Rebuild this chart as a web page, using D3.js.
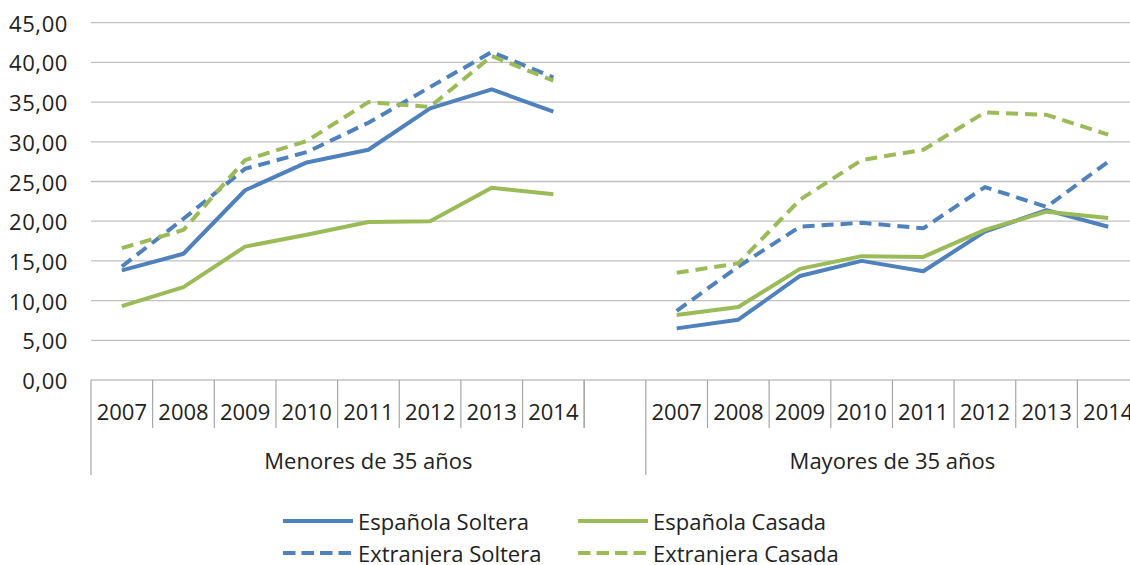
<!DOCTYPE html>
<html>
<head>
<meta charset="utf-8">
<script src="https://cdn.jsdelivr.net/npm/d3@7.9.0/dist/d3.min.js"></script>
<style>
  html, body { margin: 0; padding: 0; background: #fff; }
  svg { display: block; font-family: "Open Sans", sans-serif; }
  .tick-label { font-size: 22px; fill: #222; }
  .y-label { font-size: 22px; fill: #222; letter-spacing: 0.6px; }
  .legend-label { font-size: 22px; fill: #222; }
</style>
</head>
<body>
<svg width="1130" height="565"></svg>
<script>
const years = ['2007', '2008', '2009', '2010', '2011', '2012', '2013', '2014'];
const groups = ['Menores de 35 años', 'Mayores de 35 años'];
const yTicks = [0, 5, 10, 15, 20, 25, 30, 35, 40, 45];

const espSolteraMenores = [13.8, 15.9, 23.9, 27.4, 29.0, 34.2, 36.6, 33.8];
const espSolteraMayores = [6.5, 7.6, 13.1, 15.0, 13.7, 18.7, 21.4, 19.3];
const espCasadaMenores = [9.3, 11.7, 16.8, 18.3, 19.9, 20.0, 24.2, 23.4];
const espCasadaMayores = [8.2, 9.2, 14.0, 15.6, 15.5, 18.9, 21.2, 20.4];
const extSolteraMenores = [14.3, 20.3, 26.6, 28.7, 32.4, 36.9, 41.3, 38.1];
const extSolteraMayores = [8.7, 14.3, 19.3, 19.8, 19.1, 24.3, 21.8, 27.5];
const extCasadaMenores = [16.6, 18.9, 27.7, 30.1, 35.0, 34.4, 40.8, 37.7];
const extCasadaMayores = [13.5, 14.7, 22.7, 27.7, 29.0, 33.7, 33.4, 30.9];

const series = [
  { name: 'Española Soltera', color: '#4f81bd', dash: null, values: [espSolteraMenores, espSolteraMayores] },
  { name: 'Española Casada', color: '#9bbb59', dash: null, values: [espCasadaMenores, espCasadaMayores] },
  { name: 'Extranjera Soltera', color: '#4f81bd', dash: '12,7', values: [extSolteraMenores, extSolteraMayores] },
  { name: 'Extranjera Casada', color: '#9bbb59', dash: '12,7', values: [extCasadaMenores, extCasadaMayores] }
];

const svg = d3.select('svg');
const left = 91, bandW = 61.65;

// 8 years, one empty slot, 8 years
const slots = [];
groups.forEach((g, gi) => {
  years.forEach(yr => slots.push(gi + '-' + yr));
  if (gi === 0) slots.push('gap');
});

const x = d3.scaleBand().domain(slots).range([left, left + slots.length * bandW]).padding(0);
const y = d3.scaleLinear().domain([0, 45]).range([380, 22.7]);
const fmt = v => d3.format('.2f')(v).replace('.', ',');

// gridlines
svg.append('g')
  .selectAll('line')
  .data(yTicks.filter(d => d > 0))
  .join('line')
  .attr('x1', left).attr('x2', 1130)
  .attr('y1', d => y(d)).attr('y2', d => y(d))
  .attr('stroke', '#c0c0c0').attr('stroke-width', 1.3);

// y labels
svg.append('g')
  .selectAll('text')
  .data(yTicks)
  .join('text')
  .attr('class', 'y-label')
  .attr('x', 68).attr('y', d => y(d))
  .attr('text-anchor', 'end').attr('dominant-baseline', 'central')
  .text(fmt);

// x axis
const axis = svg.append('g').attr('stroke', '#a6a6a6').attr('stroke-width', 1.2);
axis.append('line').attr('x1', left).attr('x2', 1130).attr('y1', y(0)).attr('y2', y(0));
slots.forEach((s, i) => {
  const xx = x(s);
  const full = i === 0 || s === '1-2007';
  axis.append('line')
    .attr('x1', xx).attr('x2', xx)
    .attr('y1', y(0)).attr('y2', full ? 475 : 428);
});
axis.append('line')
  .attr('x1', x('0-2014') + bandW).attr('x2', x('0-2014') + bandW)
  .attr('y1', y(0)).attr('y2', 428);

svg.append('g')
  .selectAll('text')
  .data(slots.filter(s => s !== 'gap'))
  .join('text')
  .attr('class', 'tick-label')
  .attr('x', d => x(d) + bandW / 2).attr('y', 411)
  .attr('text-anchor', 'middle').attr('dominant-baseline', 'central')
  .text(d => d.split('-')[1]);

const groupCenters = [
  (x('0-2007') + x('gap') + bandW) / 2,
  (x('1-2007') + x('1-2014') + bandW) / 2
];
svg.append('g')
  .selectAll('text')
  .data(groups)
  .join('text')
  .attr('class', 'tick-label')
  .attr('x', (d, i) => groupCenters[i]).attr('y', 460)
  .attr('text-anchor', 'middle').attr('dominant-baseline', 'central')
  .text(d => d);

// lines
const line = d3.line().x(d => d[0]).y(d => y(d[1]));
series.forEach(s => {
  s.values.forEach((vals, gi) => {
    const pts = vals.map((v, i) => [x(gi + '-' + years[i]) + bandW / 2, v]);
    svg.append('path')
      .attr('d', line(pts))
      .attr('fill', 'none')
      .attr('stroke', s.color)
      .attr('stroke-width', 4)
      .attr('stroke-linejoin', 'round')
      .attr('stroke-dasharray', s.dash);
  });
});

// legend
const legendPos = [[283, 521], [578, 521], [283, 553], [578, 553]];
series.forEach((s, i) => {
  const [lx, ly] = legendPos[i];
  svg.append('line')
    .attr('x1', lx).attr('x2', lx + 70)
    .attr('y1', ly).attr('y2', ly)
    .attr('stroke', s.color).attr('stroke-width', 4)
    .attr('stroke-dasharray', s.dash ? '12.5,6' : null);
  svg.append('text')
    .attr('class', 'legend-label')
    .attr('x', lx + 75).attr('y', ly)
    .attr('dominant-baseline', 'central')
    .text(s.name);
});
</script>
</body>
</html>
